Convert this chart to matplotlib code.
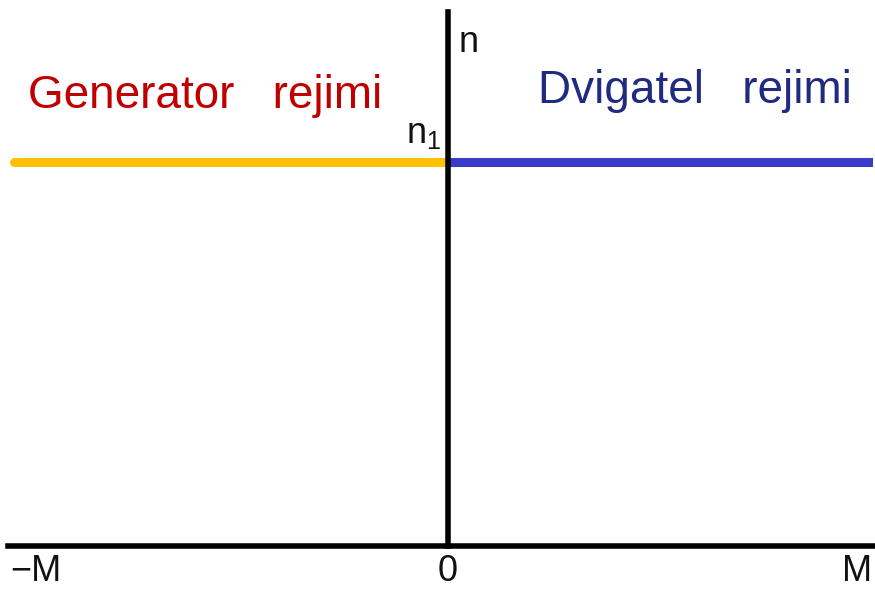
import matplotlib
matplotlib.use("Agg")
import matplotlib.pyplot as plt

plt.rcParams['font.family'] = ['Liberation Sans', 'DejaVu Sans']
plt.rcParams['mathtext.fontset'] = 'custom'
plt.rcParams['mathtext.rm'] = 'Liberation Sans'
plt.rcParams['mathtext.it'] = 'Liberation Sans'

# data
gen_M = [-1.02, 0.0]      # generator regime (negative torque)
gen_n = [1.0, 1.0]
mot_M = [0.0, 1.0]        # motor regime (positive torque)
mot_n = [1.0, 1.0]
x_labels = ["\u2212M", "0", "M"]
gen_label = "Generator   rejimi"
mot_label = "Dvigatel   rejimi"

fig = plt.figure(figsize=(8.75, 5.9), dpi=100)
ax = fig.add_axes([8/875, 44/590, 865/875, 534/590])
ax.set_xlim(-1.035, 1.0)
ax.set_ylim(0, 1.39)

ax.plot(gen_M, gen_n, color='#FFC000', lw=6.5, solid_capstyle='round', zorder=2)
ax.plot(mot_M, mot_n, color='#3B3BCB', lw=6.5, solid_capstyle='butt', zorder=2)

for s in ['top', 'right']:
    ax.spines[s].set_visible(False)
ax.spines['left'].set_position(('data', 0))
ax.spines['bottom'].set_position(('data', 0))
for s in ['left', 'bottom']:
    ax.spines[s].set_linewidth(4)
    ax.spines[s].set_color('black')
    ax.spines[s].set_zorder(3)
ax.set_xticks([])
ax.set_yticks([])
ax.patch.set_alpha(0)

ax.text(-0.988, 1.14, gen_label, color='#C00000', fontsize=33, ha='left', va='baseline')
ax.text(0.212, 1.154, mot_label, color='#1F2A80', fontsize=33, ha='left', va='baseline')
ax.text(0.024, 1.286, "n", color='#111111', fontsize=26, ha='left', va='baseline')
ax.text(-0.017, 1.05, r"n$_\mathregular{1}$", color='#111111', fontsize=26, ha='right', va='baseline')

yb = -0.092
ax.text(-1.03, yb, x_labels[0], color='#111111', fontsize=26, ha='left', va='baseline')
ax.text(0.0, yb, x_labels[1], color='#111111', fontsize=26, ha='center', va='baseline')
ax.text(0.998, yb, x_labels[2], color='#111111', fontsize=26, ha='right', va='baseline')

fig.savefig("out.png", dpi=100)
